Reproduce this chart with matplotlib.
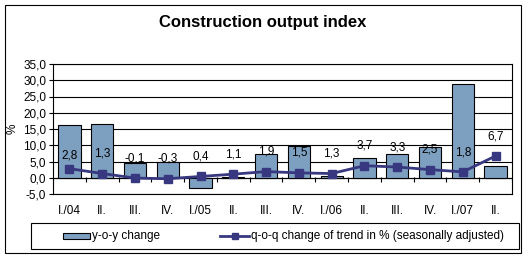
import numpy as np
import matplotlib.pyplot as plt
from matplotlib.patches import Rectangle
from matplotlib.lines import Line2D

plt.rcParams['font.family'] = ['Liberation Sans', 'DejaVu Sans']

# data
quarters = ["I./04", "II.", "III.", "IV.", "I./05", "II.", "III.", "IV.",
            "I./06", "II.", "III.", "IV.", "I./07", "II."]
yoy_change = [16.2, 16.5, 4.6, 4.7, -3.2, 0.3, 7.3, 9.7,
              0.6, 6.2, 7.3, 9.4, 28.9, 3.6]
qoq_trend = [2.8, 1.3, -0.1, -0.3, 0.4, 1.1, 1.9, 1.5,
             1.3, 3.7, 3.3, 2.5, 1.8, 6.7]
yticks = np.arange(-5, 36, 5)

bar_color = '#7da0c0'
line_color = '#383880'

fig = plt.figure(figsize=(5.28, 2.59), dpi=100)
W, H = 528, 259
ax = fig.add_axes([53 / W, 1 - 194 / H, (512 - 53) / W, (194 - 64) / H])

x = np.arange(len(quarters))
ax.bar(x, yoy_change, width=0.68, color=bar_color, edgecolor='black',
       linewidth=0.8, zorder=3)
ax.plot(x, qoq_trend, color=line_color, lw=2, marker='s', markersize=6,
        zorder=4)
for xi, v in zip(x, qoq_trend):
    # the first label sits lower in the original
    off = 5 if xi == 0 else 10
    ax.annotate(f"{v:.1f}".replace('.', ','), (xi, v), xytext=(0, off),
                textcoords='offset points', ha='center', va='bottom',
                fontsize=8.5, zorder=5)

ax.set_xlim(-0.5, len(quarters) - 0.5)
ax.set_ylim(-5, 35)
ax.set_yticks(yticks)
ax.set_yticklabels([f"{v:.1f}".replace('.', ',') for v in yticks])
ax.set_xticks(x)
ax.set_xticklabels(quarters)
ax.tick_params(axis='x', length=0, pad=8, labelsize=8.5)
ax.tick_params(axis='y', length=3, width=0.8, pad=2, labelsize=8.5)
ax.grid(axis='y', color='black', lw=0.8, zorder=1)
ax.axhline(0, color='black', lw=0.8, zorder=2)
ax.vlines(np.arange(len(quarters) + 1) - 0.5, -1.3, 0.3, color='black',
          lw=0.8, zorder=2)
for s in ax.spines.values():
    s.set_linewidth(0.8)
ax.set_ylabel('%', fontsize=8.5, labelpad=3)

fig.text(263 / W, 1 - 22 / H, 'Construction output index', ha='center',
         va='center', fontsize=12, fontweight='bold')

# legend box
fig.add_artist(Rectangle((31 / W, 1 - 249 / H), (519 - 31) / W, 26 / H,
                         transform=fig.transFigure, fill=False,
                         edgecolor='black', lw=0.8))
ly = 1 - 236 / H
fig.add_artist(Rectangle((63 / W, 1 - 239 / H), 27 / W, 6 / H,
                         transform=fig.transFigure, facecolor=bar_color,
                         edgecolor='black', lw=0.8))
fig.text(92 / W, ly, 'y-o-y change', va='center', fontsize=8.5)
fig.add_artist(Line2D([220 / W, 249 / W], [ly, ly], transform=fig.transFigure,
                      color=line_color, lw=2))
fig.add_artist(Line2D([234.5 / W], [ly], transform=fig.transFigure,
                      color=line_color, marker='s', markersize=5))
fig.text(251 / W, ly, 'q-o-q change of trend in % (seasonally adjusted)',
         va='center', fontsize=8.5)

# outer frame
fig.add_artist(Rectangle((5 / W, 1 - 253 / H), 516 / W, 248 / H,
                         transform=fig.transFigure, fill=False,
                         edgecolor='black', lw=0.8))

fig.savefig('out.png', dpi=100)
